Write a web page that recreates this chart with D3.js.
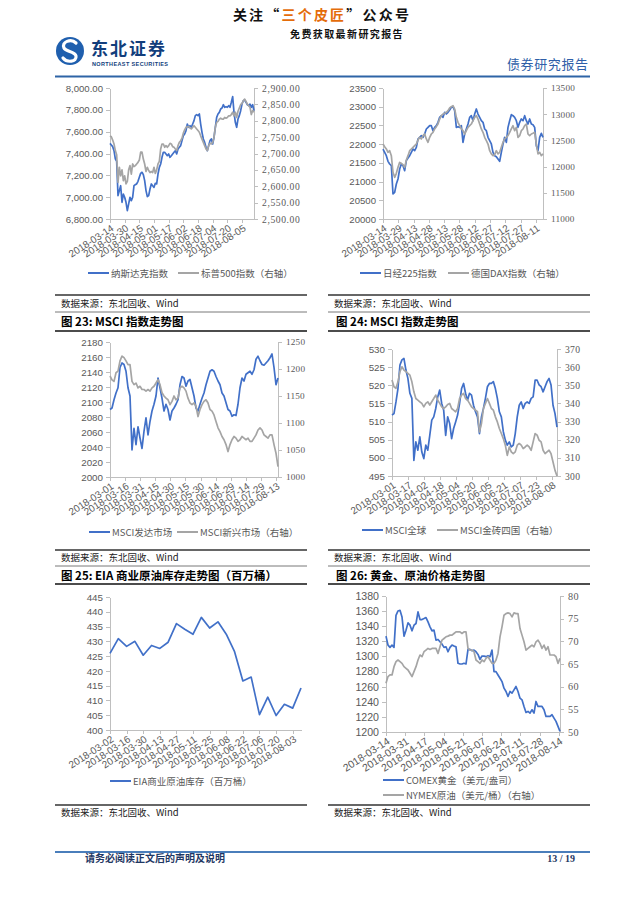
<!DOCTYPE html>
<html><head><meta charset="utf-8">
<script src="https://cdn.jsdelivr.net/npm/d3@7"></script>
<style>body{margin:0;background:#fff}svg{display:block}</style>
</head><body>
<svg id="page" width="640" height="909"></svg>
<script>
// ---------------- DATA ----------------
// Chart 1: Nasdaq (left) & S&P 500 (right), daily readings spread over span
const c1Span = ["2018-03-14", "2018-08-18"];
const c1Ticks = ["2018-03-14","2018-03-30","2018-04-15","2018-05-01","2018-05-17","2018-06-02","2018-06-18","2018-07-04","2018-07-20","2018-08-05"];
const c1LeftTicks = [6800, 7000, 7200, 7400, 7600, 7800, 8000];
const c1RightTicks = [2500, 2550, 2600, 2650, 2700, 2750, 2800, 2850, 2900];
const nasdaq = [7493,7478,7463,7426,7350,7328,7014,7060,7105,6953,7029,6999,6953,6876,6938,6999,6968,6999,7105,7115,
  7121,7145,7182,7218,7228,7206,7151,7060,7005,7014,7075,7121,7105,7090,7127,7121,7212,7273,7304,7365,
  7411,7411,7396,7380,7396,7365,7380,7396,7411,7426,7396,7441,7457,7472,7518,7563,7579,7609,7670,7640,
  7655,7640,7670,7701,7747,7756,7747,7762,7670,7594,7533,7502,7457,7426,7472,7518,7533,7487,7548,7640,
  7731,7762,7777,7808,7817,7847,7823,7829,7823,7838,7823,7869,7921,7777,7686,7640,7716,7747,7792,7853,
  7884,7890,7869,7847,7838,7853,7823,7847,7792];
const sp500 = [2754,2751,2741,2729,2709,2696,2612,2658,2632,2650,2617,2632,2607,2615,2650,2663,2637,2668,2660,2663,
  2668,2673,2680,2704,2704,2683,2668,2645,2658,2648,2642,2645,2642,2658,2639,2650,2668,2676,2714,2729,
  2729,2719,2724,2719,2724,2731,2729,2721,2719,2714,2709,2724,2734,2739,2747,2762,2772,2780,2782,2782,
  2778,2775,2780,2785,2780,2775,2770,2765,2754,2744,2734,2724,2714,2709,2724,2731,2729,2734,2749,2780,
  2795,2798,2805,2808,2805,2805,2810,2808,2810,2815,2815,2819,2826,2815,2826,2810,2829,2839,2849,2853,
  2861,2866,2859,2851,2846,2841,2819,2831,2826];

// Chart 2: Nikkei 225 (left) & DAX (right)
const c2Span = ["2018-03-14", "2018-08-18"];
const c2Ticks = ["2018-03-14","2018-03-29","2018-04-13","2018-04-28","2018-05-13","2018-05-28","2018-06-12","2018-06-27","2018-07-12","2018-07-27","2018-08-11"];
const c2LeftTicks = [20000, 20500, 21000, 21500, 22000, 22500, 23000, 23500];
const c2RightTicks = [11000, 11500, 12000, 12500, 13000, 13500];
const nikkei = [21870,21781,21692,21541,21469,21425,20668,20712,20935,21069,21336,21469,21425,21291,21559,21630,21692,21781,21870,21826,
  21915,22137,22182,22226,22182,22271,22405,22449,22494,22494,22360,22449,22494,22583,22716,22761,22716,22850,22805,22850,
  22912,22983,23001,22894,22449,22467,22449,22494,22048,22271,22405,22538,22716,22761,22627,22805,22939,22805,22716,22627,
  22583,22405,22360,22182,22093,22004,21781,21692,21665,21603,21541,21781,22004,22182,22048,22449,22627,22788,22761,22716,
  22627,22449,22583,22672,22627,22761,22627,22538,22672,22538,22520,22449,21959,21826,22182,22289,22182];
const dax = [12431,12380,12336,12272,12304,12209,11891,11795,11872,11986,12081,12062,12037,11986,12126,12209,12304,12336,12368,12400,
  12431,12508,12559,12527,12590,12622,12527,12463,12559,12622,12654,12718,12762,12813,12908,12972,13004,13017,13036,13067,
  13118,13144,13163,13099,12940,12845,12781,12718,12686,12622,12686,12749,12781,12813,12877,12940,12972,12908,12813,12718,
  12654,12559,12495,12431,12304,12241,12209,12228,12304,12241,12272,12368,12463,12527,12559,12590,12654,12718,12781,12686,
  12749,12559,12590,12686,12718,12781,12813,12622,12590,12622,12635,12654,12431,12241,12272,12209,12241];

// Chart 3: MSCI developed (left) & MSCI emerging (right)
const c3Span = ["2018-03-01", "2018-08-15"];
const c3Ticks = ["2018-03-01","2018-03-16","2018-03-31","2018-04-15","2018-04-30","2018-05-15","2018-05-30","2018-06-14","2018-06-29","2018-07-14","2018-07-29","2018-08-13"];
const c3LeftTicks = [2000, 2020, 2040, 2060, 2080, 2100, 2120, 2140, 2160, 2180];
const c3RightTicks = [1000, 1050, 1100, 1150, 1200, 1250];
const msciDev = [2090,2092,2103,2112,2119,2146,2152,2150,2141,2119,2108,2036,2065,2043,2067,2052,2038,2061,2079,2056,
  2074,2088,2097,2108,2132,2119,2105,2088,2097,2090,2076,2088,2092,2097,2103,2123,2134,2132,2121,2128,
  2130,2119,2108,2092,2088,2097,2105,2112,2123,2132,2141,2143,2141,2134,2128,2123,2112,2108,2099,2090,
  2088,2081,2083,2082,2097,2119,2132,2128,2137,2139,2141,2137,2143,2157,2161,2155,2150,2149,2152,2155,
  2159,2164,2146,2123,2132];
const msciEm = [1187,1180,1177,1193,1196,1215,1224,1221,1215,1208,1208,1177,1171,1174,1165,1168,1162,1162,1159,1162,
  1159,1165,1168,1174,1180,1171,1156,1150,1146,1143,1134,1140,1150,1143,1146,1165,1168,1165,1159,1146,
  1137,1134,1137,1131,1112,1125,1134,1140,1143,1137,1125,1122,1115,1103,1091,1084,1075,1069,1060,1047,
  1060,1069,1075,1072,1066,1069,1075,1072,1069,1072,1066,1066,1072,1078,1087,1091,1087,1078,1075,1072,
  1078,1078,1060,1044,1019];

// Chart 4: MSCI world (left) & MSCI BRIC (right)
const c4Span = ["2018-03-01", "2018-08-13"];
const c4Ticks = ["2018-03-01","2018-03-17","2018-04-02","2018-04-18","2018-05-04","2018-05-20","2018-06-05","2018-06-21","2018-07-07","2018-07-23","2018-08-08"];
const c4LeftTicks = [495, 500, 505, 510, 515, 520, 525, 530];
const c4RightTicks = [300, 310, 320, 330, 340, 350, 360, 370];
const msciWorld = [511.8,512.2,515.4,519.1,525.6,527.0,527.4,524.2,521.9,517.8,516.4,499.3,504.4,502.1,505.8,501.6,499.8,503.5,502.1,506.2,
  510.4,511.3,513.6,516.8,518.7,515.0,513.1,506.2,511.3,509.5,505.3,508.1,509.9,511.8,515.0,519.1,520.5,517.8,515.9,517.8,
  517.3,514.5,512.7,511.3,506.7,511.3,513.6,516.4,519.6,520.5,520.5,521.0,519.1,516.4,512.7,511.3,507.2,504.9,503.5,504.4,
  503.0,503.5,506.7,511.3,514.5,515.4,513.6,515.0,515.4,515.0,516.4,516.8,521.4,521.4,520.1,519.6,518.2,519.6,521.0,521.9,
  520.1,514.5,512.2,508.5];
const msciBric = [352.9,349.2,348.3,351.9,357.5,360.2,358.4,357.5,356.6,355.6,351.9,346.4,342.7,341.8,340.9,340.0,338.1,340.0,340.9,339.1,
  340.9,342.7,344.6,341.8,340.0,338.1,337.2,338.1,339.4,340.0,337.2,336.3,335.4,337.2,342.7,344.6,345.5,342.7,341.8,340.0,
  338.1,337.2,336.3,335.4,324.3,328.9,337.2,340.0,342.7,340.0,337.2,336.3,332.6,329.8,326.2,323.4,320.6,317.0,311.4,316.0,
  313.3,312.3,313.3,317.0,317.9,317.0,315.1,316.0,317.0,316.0,314.2,318.8,323.4,322.5,319.7,318.8,314.2,312.3,313.3,314.2,
  312.3,307.7,303.1,300.0];

// Chart 5: EIA commercial crude inventories (weekly)
const c5Span = ["2018-03-02", "2018-08-10"];
const c5Ticks = ["2018-03-02","2018-03-16","2018-03-30","2018-04-13","2018-04-27","2018-05-11","2018-05-25","2018-06-08","2018-06-22","2018-07-06","2018-07-20","2018-08-03"];
const c5LeftTicks = [400, 405, 410, 415, 420, 425, 430, 435, 440, 445];
const eiaDates = ["2018-03-02","2018-03-09","2018-03-16","2018-03-23","2018-03-30","2018-04-06","2018-04-13","2018-04-20","2018-04-27","2018-05-04","2018-05-11","2018-05-18",
  "2018-05-25","2018-06-01","2018-06-08","2018-06-15","2018-06-22","2018-06-29","2018-07-06","2018-07-13","2018-07-20","2018-07-27","2018-08-03","2018-08-10"];
const eiaStock = [425.9,430.9,428.3,430.0,425.3,428.6,427.6,429.7,436.0,434.1,432.4,438.1,434.5,436.6,432.4,426.5,416.6,417.9,405.2,411.1,404.9,408.7,407.4,414.2];

// Chart 6: COMEX gold (left) & NYMEX crude (right)
const c6Span = ["2018-03-14", "2018-08-15"];
const c6Ticks = ["2018-03-14","2018-03-31","2018-04-17","2018-05-04","2018-05-21","2018-06-07","2018-06-24","2018-07-11","2018-07-28","2018-08-14"];
const c6LeftTicks = [1200, 1220, 1240, 1260, 1280, 1300, 1320, 1340, 1360, 1380];
const c6RightTicks = [50, 55, 60, 65, 70, 75, 80];
const gold = [1326.9,1315.0,1312.0,1315.0,1312.0,1354.5,1360.2,1361.1,1352.3,1326.9,1334.8,1344.4,1341.4,1333.9,1341.4,1343.6,1358.9,1348.8,1348.8,1350.1,
  1351.5,1345.8,1339.2,1333.9,1334.8,1321.6,1322.5,1319.4,1316.3,1312.0,1312.8,1306.2,1312.0,1315.0,1313.7,1312.8,1290.9,1290.0,1290.0,1290.9,
  1290.0,1309.3,1309.3,1307.6,1308.4,1306.2,1302.7,1296.2,1300.5,1300.5,1299.7,1301.0,1299.7,1308.4,1279.9,1279.9,1275.5,1271.1,1266.7,1258.0,
  1253.6,1247.0,1253.6,1251.4,1255.8,1260.2,1253.6,1244.8,1242.6,1233.8,1225.9,1227.2,1225.0,1229.4,1225.0,1240.4,1233.8,1233.8,1233.8,1229.4,
  1220.6,1220.6,1220.6,1222.8,1218.4,1214.1,1207.5,1200.9];
const wti = [60.76,62.22,62.59,62.59,64.41,65.51,65.88,65.51,65.15,64.41,64.05,63.68,62.95,62.22,63.32,64.41,65.88,66.98,66.61,67.71,
  68.07,68.44,68.22,68.44,68.44,68.44,67.34,68.81,70.27,70.63,71.0,71.15,71.37,71.37,71.73,72.10,72.10,72.10,71.73,72.10,
  72.10,68.44,68.07,68.07,67.71,65.88,65.51,65.15,65.88,65.51,66.24,66.61,65.88,65.15,65.15,65.88,67.34,71.0,73.20,75.76,
  76.12,76.27,76.12,75.39,76.27,76.12,76.12,72.83,71.37,69.9,68.07,68.44,68.81,69.17,68.81,69.9,70.27,69.54,68.44,69.17,
  68.07,68.81,66.98,66.98,66.98,66.61,65.15,66.24];

// ---------------- DRAWING ----------------
const svg = d3.select("#page");
const parse = d3.timeParse("%Y-%m-%d");
const fmtDate = d3.timeFormat("%Y-%m-%d");
const SANS = "'Liberation Sans', Arial, sans-serif";
const SERIF = "'Liberation Serif', 'Times New Roman', serif";
const CJK = "'Noto Sans CJK SC', sans-serif";
const BLUE = "#4170C8", GRAY = "#A5A5A5", AXTXT = "#595959", AXLINE = "#BFBFBF";

function spread(s, e, n) {
  const a = parse(s).getTime(), b = parse(e).getTime();
  return d3.range(n).map(i => new Date(a + (b - a) * i / (n - 1)));
}

function styleAxis(sel, font, size, ls) {
  sel.attr("shape-rendering", "crispEdges");
  sel.select(".domain").attr("stroke", AXLINE);
  sel.selectAll(".tick line").attr("stroke", AXLINE);
  sel.selectAll("text").attr("fill", AXTXT).style("font-family", font)
    .style("font-size", size + "px").style("letter-spacing", (ls || 0) + "px");
}

function drawChart(c) {
  const g = svg.append("g");
  const x = d3.scaleTime().domain(c.span.map(parse)).range([c.x0, c.x1]);
  const yL = d3.scaleLinear().domain(c.left.domain).range([c.y1, c.y0]);
  const yR = c.right ? d3.scaleLinear().domain(c.right.domain).range([c.y1, c.y0]) : null;

  const la = g.append("g").attr("transform", `translate(${c.x0},0)`)
    .call(d3.axisLeft(yL).tickValues(c.left.ticks).tickFormat(c.left.fmt).tickSize(4).tickSizeOuter(0).tickPadding(3));
  styleAxis(la, SANS, c.left.size);

  if (yR) {
    const ra = g.append("g").attr("transform", `translate(${c.x1},0)`)
      .call(d3.axisRight(yR).tickValues(c.right.ticks).tickFormat(c.right.fmt).tickSize(4).tickSizeOuter(0).tickPadding(4));
    styleAxis(ra, SERIF, c.right.size, c.right.ls);
  }

  const ba = g.append("g").attr("transform", `translate(0,${c.y1})`)
    .call(d3.axisBottom(x).tickValues(c.ticks.map(parse)).tickFormat(fmtDate).tickSize(4).tickSizeOuter(0));
  styleAxis(ba, SANS, c.xsize);
  ba.selectAll("text").attr("x", 0).attr("y", 0).attr("dy", 0)
    .attr("text-anchor", "end").attr("transform", "translate(4,11) rotate(-33)");

  c.series.forEach(s => {
    const dates = s.dates ? s.dates.map(parse) : spread(c.span[0], c.span[1], s.values.length);
    const y = s.axis === "right" ? yR : yL;
    g.append("path").datum(s.values)
      .attr("fill", "none").attr("stroke", s.color).attr("stroke-width", 1.7)
      .attr("stroke-linejoin", "round")
      .attr("d", d3.line().x((d, i) => x(dates[i])).y(d => y(d)));
  });

  c.legend.forEach(l => {
    g.append("line").attr("x1", l.x).attr("x2", l.x + 21).attr("y1", l.y).attr("y2", l.y)
      .attr("stroke", l.color).attr("stroke-width", 2);
    g.append("text").attr("x", l.x + 23).attr("y", l.y + 3.5).text(l.label)
      .style("font-family", CJK).style("font-size", "9.5px").attr("fill", AXTXT);
  });
}

const f2 = d3.format(",.2f"), f0 = d3.format("d");

drawChart({x0:110, x1:254, y0:88, y1:219, span:c1Span, ticks:c1Ticks, xsize:10,
  left:{domain:[6800,8000], ticks:c1LeftTicks, fmt:f2, size:9.6},
  right:{domain:[2500,2900], ticks:c1RightTicks, fmt:f2, size:9.6, ls:0.6},
  series:[{values:nasdaq, color:BLUE, axis:"left"}, {values:sp500, color:GRAY, axis:"right"}],
  legend:[{x:88, y:273, color:BLUE, label:"纳斯达克指数"}, {x:178, y:273, color:GRAY, label:"标普500指数（右轴）"}]});

drawChart({x0:383, x1:543, y0:88, y1:219, span:c2Span, ticks:c2Ticks, xsize:10,
  left:{domain:[20000,23500], ticks:c2LeftTicks, fmt:f0, size:9.6},
  right:{domain:[11000,13500], ticks:c2RightTicks, fmt:f0, size:9.2, ls:0.2},
  series:[{values:nikkei, color:BLUE, axis:"left"}, {values:dax, color:GRAY, axis:"right"}],
  legend:[{x:360, y:273, color:BLUE, label:"日经225指数"}, {x:448, y:273, color:GRAY, label:"德国DAX指数（右轴）"}]});

drawChart({x0:110, x1:278, y0:342, y1:477, span:c3Span, ticks:c3Ticks, xsize:10,
  left:{domain:[2000,2180], ticks:c3LeftTicks, fmt:f0, size:9.8},
  right:{domain:[1000,1250], ticks:c3RightTicks, fmt:f0, size:9.2, ls:0.2},
  series:[{values:msciDev, color:BLUE, axis:"left"}, {values:msciEm, color:GRAY, axis:"right"}],
  legend:[{x:89, y:532, color:BLUE, label:"MSCI发达市场"}, {x:177, y:532, color:GRAY, label:"MSCI新兴市场（右轴）"}]});

drawChart({x0:392, x1:557, y0:349, y1:476, span:c4Span, ticks:c4Ticks, xsize:10,
  left:{domain:[495,530], ticks:c4LeftTicks, fmt:f0, size:9.8},
  right:{domain:[300,370], ticks:c4RightTicks, fmt:f0, size:9.6, ls:0.3},
  series:[{values:msciWorld, color:BLUE, axis:"left"}, {values:msciBric, color:GRAY, axis:"right"}],
  legend:[{x:362, y:530, color:BLUE, label:"MSCI全球"}, {x:437, y:530, color:GRAY, label:"MSCI金砖四国（右轴）"}]});

drawChart({x0:110, x1:301, y0:597, y1:730, span:c5Span, ticks:c5Ticks, xsize:10,
  left:{domain:[400,445], ticks:c5LeftTicks, fmt:f0, size:9.8},
  series:[{values:eiaStock, dates:eiaDates, color:BLUE, axis:"left"}],
  legend:[{x:110, y:781, color:BLUE, label:"EIA商业原油库存（百万桶）"}]});

drawChart({x0:386, x1:560, y0:596, y1:732, span:c6Span, ticks:c6Ticks, xsize:10.4,
  left:{domain:[1200,1380], ticks:c6LeftTicks, fmt:f0, size:10.6},
  right:{domain:[50,80], ticks:c6RightTicks, fmt:f0, size:10.2, ls:0.3},
  series:[{values:gold, color:BLUE, axis:"left"}, {values:wti, color:GRAY, axis:"right"}],
  legend:[{x:383, y:780, color:BLUE, label:"COMEX黄金（美元/盎司）"}, {x:383, y:795, color:GRAY, label:"NYMEX原油（美元/桶）（右轴）"}]});

// ---------------- PAGE FURNITURE ----------------
const hline = (x1, x2, y, w, col) => svg.append("line").attr("x1", x1).attr("x2", x2).attr("y1", y).attr("y2", y)
  .attr("stroke", col).attr("stroke-width", w);
const txt = (x, y, s, size, opts = {}) => svg.append("text").attr("x", x).attr("y", y).text(s)
  .style("font-family", opts.font || CJK).style("font-size", size + "px")
  .style("font-weight", opts.weight || "normal").attr("fill", opts.fill || "#000")
  .attr("text-anchor", opts.anchor || "start").style("letter-spacing", (opts.ls || 0) + "px");

// header
const h1 = svg.append("text").attr("x", 322).attr("y", 20).attr("text-anchor", "middle")
  .style("font-family", CJK).style("font-size", "14px").style("font-weight", "bold").style("letter-spacing", "2.2px");
h1.append("tspan").text("关注“").attr("fill", "#111");
h1.append("tspan").text("三个皮匠").attr("fill", "#E46C0A");
h1.append("tspan").text("”公众号").attr("fill", "#111");
txt(347, 38, "免费获取最新研究报告", 10, {weight: "bold", anchor: "middle", ls: 1.4, fill: "#111"});

svg.append("circle").attr("cx", 70).attr("cy", 51).attr("r", 14).attr("fill", "#1F5FAE");
svg.append("path").attr("d", "M76,43 C71,38 61,42 64,48 C66,52 75,51 76,56 C77,62 67,63 63,58")
  .attr("fill", "none").attr("stroke", "#fff").attr("stroke-width", 3.2).attr("stroke-linecap", "round");
txt(91, 55, "东北证券", 17, {weight: "bold", fill: "#123E7C", ls: 2});
svg.append("text").attr("x", 92).attr("y", 66).text("NORTHEAST SECURITIES")
  .attr("textLength", 76).style("font-family", SANS).style("font-size", "5.5px").style("font-weight", "bold").attr("fill", "#123E7C");
txt(507, 69, "债券研究报告", 13, {fill: "#2F5FA8", ls: 0.6});
hline(55, 590, 76.5, 2, "#2E64A6");

// panel rules, titles and sources
const panels = [[55, 307], [328, 590]];
panels.forEach(([a, b]) => {
  hline(a, b, 295, 1.3, "#333");
  txt(a + 6, 307, "数据来源：东北固收、Wind", 9.5, {fill: "#222"});
  hline(a, b, 312, 0.8, "#555");
  hline(a, b, 331, 1.6, "#111");
  hline(a, b, 550, 1.3, "#333");
  txt(a + 6, 561, "数据来源：东北固收、Wind", 9.5, {fill: "#222"});
  hline(a, b, 566, 0.8, "#555");
  hline(a, b, 584, 1.6, "#111");
  hline(a, b, 805, 1.3, "#333");
  txt(a + 6, 816, "数据来源：东北固收、Wind", 9.5, {fill: "#222"});
});
txt(61, 326, "图 23: MSCI 指数走势图", 11.5, {weight: "bold"});
txt(336, 326, "图 24: MSCI 指数走势图", 11.5, {weight: "bold"});
txt(61, 580, "图 25: EIA 商业原油库存走势图（百万桶）", 11.5, {weight: "bold"});
txt(336, 580, "图 26: 黄金、原油价格走势图", 11.5, {weight: "bold"});

// footer
hline(55, 590, 852, 2, "#4A7EBB");
txt(85, 862, "请务必阅读正文后的声明及说明", 10, {weight: "bold", fill: "#1F3864"});
txt(575, 862, "13 / 19", 10, {weight: "bold", fill: "#1F3864", anchor: "end", font: SERIF});
</script>
</body></html>
